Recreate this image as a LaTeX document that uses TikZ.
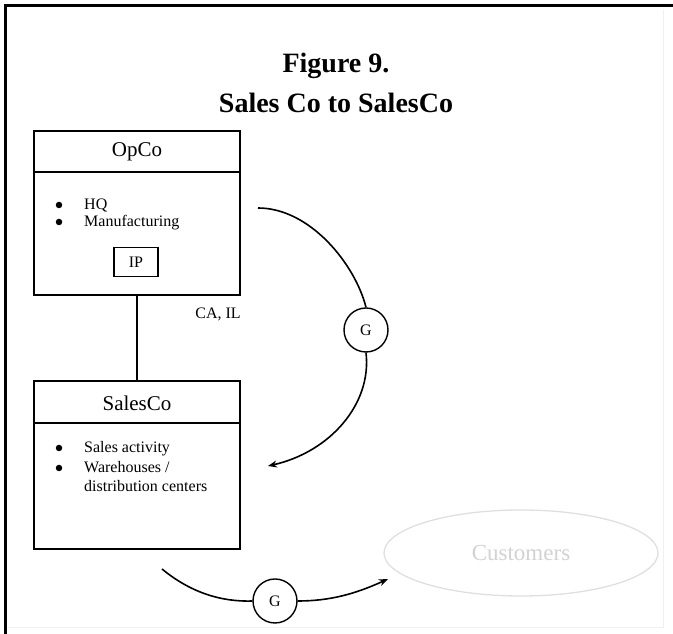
\documentclass[tikz,border=0pt]{standalone}
\usepackage{fontspec}
\setmainfont{Liberation Serif}
\usetikzlibrary{arrows.meta,shapes.geometric}
\begin{document}
\begin{tikzpicture}[x=1pt,y=1pt,
  entity/.style={draw,line width=1.8pt,minimum width=206pt,inner sep=0pt},
  bodytext/.style={font=\fontsize{16}{19}\selectfont,inner sep=0pt},
  bullettext/.style={bodytext,anchor=base west},
  bulletdot/.style={fill,circle,inner sep=0pt,minimum size=6.5pt},
  gcircle/.style={draw,circle,line width=1.4pt,minimum size=44pt,inner sep=0pt,font=\fontsize{16}{19}\selectfont},
  flow/.style={line width=1.6pt},
  flowtip/.style={flow,-{Stealth[length=9pt,width=7pt]}}]
\useasboundingbox (0,0) rectangle (673,634);
% page frame
\draw[line width=3pt] (5,0) -- (5,628) -- (673,628);
\draw[gray!12,line width=1pt] (663,624) -- (663,6) -- (8,6);

% title
\node[font=\fontsize{28}{32}\selectfont\bfseries] (t1) at (336,568) {Figure 9.};
\node[font=\fontsize{28}{32}\selectfont\bfseries] (t2) at (336,531) {Sales Co to SalesCo};

% OpCo
\node[entity,minimum height=164pt] (opco) at (137,421) {};
\draw[line width=1.8pt] (34,462) -- (240,462);
\node[font=\fontsize{21}{24}\selectfont] (opconame) at (137,482) {OpCo};
\node[bulletdot] (b1) at (59,429) {};
\node[bullettext] (hq) at (84,424) {HQ};
\node[bulletdot] (b2) at (59,412) {};
\node[bullettext] (mf) at (84,407) {Manufacturing};
\node[draw,line width=1.5pt,minimum width=44pt,minimum height=29pt,inner sep=0pt,bodytext] (ip) at (136,372) {IP};

% SalesCo
\node[entity,minimum height=168pt] (salesco) at (137,169) {};
\draw[line width=1.8pt] (34,211) -- (240,211);
\node[font=\fontsize{21}{24}\selectfont] (salesname) at (137,231) {SalesCo};
\node[bulletdot] (b3) at (59,186) {};
\node[bullettext] (sa) at (84,181) {Sales activity};
\node[bulletdot] (b4) at (59,166) {};
\node[bullettext] (wh) at (84,161) {Warehouses /};
\node[bullettext] (dc) at (84,142) {distribution centers};

% ownership link
\draw[line width=1.8pt] (opco.south) -- (salesco.north);
\node[bodytext] (cail) at (218,320) {CA, IL};

% goods flow OpCo -> SalesCo
\node[gcircle] (g1) at (366,304) {G};
\coordinate (s1) at (258,426);
\coordinate (e1) at (268,168);
\draw[flow] (s1) .. controls (310,426) and (355,370) .. (g1.north);
\draw[flowtip] (g1.south) .. controls (372,230) and (330,182) .. (e1);

% customer
\node[draw=gray!25,line width=1.3pt,ellipse,minimum width=274pt,minimum height=86pt,inner sep=0pt,
  text=gray!35,font=\fontsize{23}{26}\selectfont] (cust) at (521,81) {Customers};

% goods flow SalesCo -> customer
\node[gcircle] (g2) at (275,33) {G};
\coordinate (s2) at (162,65);
\coordinate (e2) at (388,55);
\draw[flow] (s2) .. controls (190,42) and (220,32) .. (g2.west);
\draw[flowtip] (g2.east) .. controls (330,33) and (355,40) .. (e2);
\end{tikzpicture}
\end{document}
